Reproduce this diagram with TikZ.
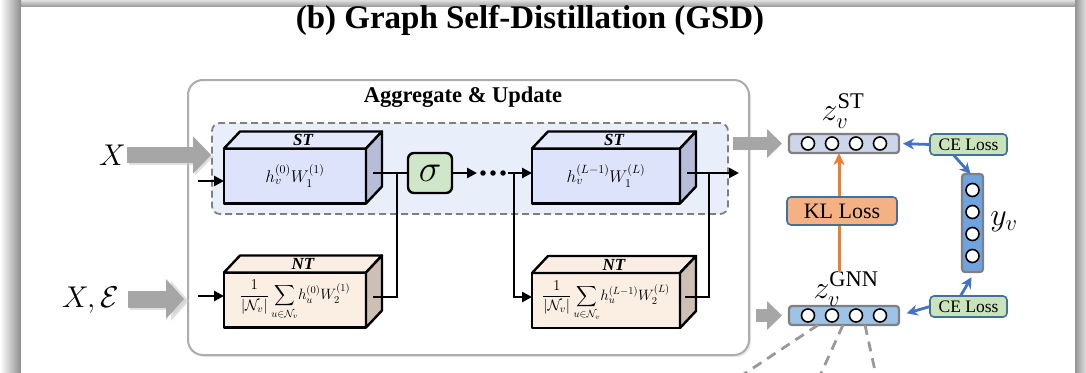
\RequirePackage{fix-cm}
\documentclass[tikz,border=0pt]{standalone}
\usepackage{amsmath}
\usepackage{fontspec}
\setmainfont{Liberation Serif}
\usetikzlibrary{arrows.meta,calc,shadows}

\definecolor{stfront}{HTML}{DDE3FA}
\definecolor{sttop}{HTML}{E4E8FB}
\definecolor{stside}{HTML}{B7BDD9}
\definecolor{ntfront}{HTML}{FBEEE3}
\definecolor{nttop}{HTML}{FAEEE4}
\definecolor{ntside}{HTML}{CDBFB4}
\definecolor{zonefill}{HTML}{E9EEFB}
\definecolor{sigfill}{HTML}{CFE6C9}
\definecolor{zstfill}{HTML}{CDD5EA}
\definecolor{zgnnfill}{HTML}{9DC3E6}
\definecolor{yfill}{HTML}{6FA3E0}
\definecolor{klfill}{HTML}{F4B183}
\definecolor{cefill}{HTML}{C9E3BC}
\definecolor{boxblue}{HTML}{41719C}
\definecolor{arrblue}{HTML}{4472C4}
\definecolor{arrorange}{HTML}{ED7D31}
\definecolor{blockgray}{HTML}{A6A6A6}

% 3-D block: name, centre, width, colour set (st/nt), top label, front content
\newcommand{\layerblock}[6]{%
  \node[frontface, fill=#4front, minimum width=#3, minimum height=55] (#1) at (#2) {#6};
  \draw[facepath, fill=#4top] (#1.north west) -- ++(16,-17)
       -- ($(#1.north east)+(16,-17)$) -- (#1.north east) -- cycle;
  \draw[facepath, fill=#4side] (#1.north east) -- ++(16,-17)
       -- ($(#1.south east)+(16,-17)$) -- (#1.south east) -- cycle;
  \node[toplabel] (#1-lab) at ($(#1.north)+(8,-8.5)$) {#5};
}

\begin{document}
\begin{tikzpicture}[x=1pt,y=-1pt,
  frontface/.style={draw, line width=2.4pt, outer sep=0pt, inner sep=2pt, line join=round},
  facepath/.style={draw, line width=2.4pt, line join=round},
  toplabel/.style={font=\bfseries\itshape\fontsize{17}{19}\selectfont, inner sep=0pt},
  wire/.style={draw, line width=2.8pt},
  arr/.style={wire, -{Triangle[length=10pt,width=10pt]}},
  blockarr/.style={draw=blockgray, line width=#1},
  ellipsisdot/.style={circle, fill=black, minimum size=5.5pt, inner sep=0pt},
  vecbox/.style={draw=black!50, line width=2.2pt, rounded corners=3pt, inner sep=0pt, outer sep=0pt},
  cell/.style={circle, draw, fill=white, line width=1.6pt, minimum size=13pt, inner sep=0pt},
  lossbox/.style={draw=boxblue, line width=1.6pt, rounded corners=4pt, inner sep=0pt, outer sep=0pt},
  bluearr/.style={draw=arrblue, line width=2.8pt, -{Stealth[length=11pt,width=11pt,inset=3.5pt]}},
  mathlab/.style={font=\fontsize{32}{34}\selectfont, inner sep=0pt},
]
\useasboundingbox (0,0) rectangle (1086,372);

% page and its shadow
\fill[white] (0,0) rectangle (1086,372);
\shade[top color=black!12, bottom color=black!42] (0,0) rectangle (1086,7);
\shade[left color=white, right color=black!45] (0,0) rectangle (21,372);
\shade[left color=black!42, right color=black!12] (1075,0) rectangle (1086,372);
\fill[white] (21,7) rectangle (1075,372);

% title
\node[font=\bfseries\fontsize{33}{36}\selectfont, inner sep=0pt] (title) at (530,20)
  {(b) Graph Self-Distillation (GSD)};

% aggregate & update frame
\node[draw=black!32, line width=2pt, rounded corners=15pt, fill=white,
      drop shadow={opacity=0.18, shadow xshift=2pt, shadow yshift=-2pt},
      minimum width=561, minimum height=275] (agg) at (468.5,217.5) {};
\node[font=\bfseries\fontsize{22.5}{25}\selectfont] (aggtitle) at (463,97) {Aggregate \& Update};

% structure-only zone
\node[draw=black!50, dashed, dash pattern=on 7pt off 4pt, line width=1.8pt, fill=zonefill,
      rounded corners=8pt, minimum width=516, minimum height=91] (stzone) at (470,168.5) {};

% layer blocks
\layerblock{st1}{295,176}{142}{st}{ST}{\fontsize{17}{19}\selectfont $h_v^{(0)}W_1^{(1)}$}
\layerblock{st2}{606,176}{148}{st}{ST}{\fontsize{17}{19}\selectfont $h_v^{(L-1)}W_1^{(L)}$}
\layerblock{nt1}{295,300}{142}{nt}{NT}{\fontsize{15}{17}\selectfont $\displaystyle\frac{1}{|\mathcal{N}_v|}\sum_{u\in\mathcal{N}_v}\! h_u^{(0)}W_2^{(1)}$}
\layerblock{nt2}{606,300.5}{148}{nt}{NT}{\fontsize{15}{17}\selectfont $\displaystyle\frac{1}{|\mathcal{N}_v|}\sum_{u\in\mathcal{N}_v}\! h_u^{(L-1)}W_2^{(L)}$}

% activation
\node[draw, line width=2.4pt, fill=sigfill, rounded corners=6pt, minimum width=44, minimum height=40,
      font=\fontsize{38}{40}\selectfont, inner sep=0pt] (sig) at (430,173) {$\sigma$};

% wiring inside the frame
\coordinate (inA) at (198,181);
\coordinate (inB) at (198,296);
\coordinate (st1o) at (373,173);
\coordinate (nt1o) at (373,297);
\coordinate (j1) at (397,173);
\coordinate (dotsL) at (477,173);
\coordinate (dotsR) at (508,173);
\coordinate (j2) at (514,173);
\coordinate (st2o) at (687,173);
\coordinate (nt2o) at (685,297);
\coordinate (j3) at (709,173);
\coordinate (outE) at (739,173);

\draw[arr] (inA) -- (inA -| st1.west);
\draw[arr] (inB) -- (inB -| nt1.west);
\draw[wire] (st1o) -- (sig.west);
\draw[wire] (nt1o) -| (j1);
\draw[arr] (sig.east) -- (dotsL);
\node[ellipsisdot] (e1) at (483,173) {};
\node[ellipsisdot] (e2) at (493,173) {};
\node[ellipsisdot] (e3) at (503,173) {};
\draw[arr] (dotsR) -- (st2.west |- dotsR);
\draw[arr] (j2) |- (st2.west |- nt2o);
\draw[arr] (st2o) -- (outE);
\draw[wire] (nt2o) -| (j3);

% inputs
\node[font=\fontsize{30}{32}\selectfont, inner sep=1pt, anchor=east] (xin) at (127,155) {$X$};
\node[font=\fontsize{30}{32}\selectfont, inner sep=1pt, anchor=east] (xein) at (120,300) {$X,\mathcal{E}$};
\coordinate (xeS) at (128,299);
\draw[blockarr=16pt, draw=black!20, opacity=0.6, -{Triangle[length=18pt,width=36pt]}]
  ([xshift=2pt,yshift=-2pt]xin.east) -- ([xshift=2pt,yshift=-2pt]xin.east -| stzone.west);
\draw[blockarr=16pt, -{Triangle[length=18pt,width=36pt]}] (xin.east) -- (xin.east -| stzone.west);
\draw[blockarr=17pt, draw=black!20, opacity=0.6, -{Triangle[length=18pt,width=39pt]}]
  ([xshift=2pt,yshift=-2pt]xeS) -- ([xshift=2pt,yshift=-2pt]xeS -| agg.west);
\draw[blockarr=17pt, -{Triangle[length=18pt,width=39pt]}] (xeS) -- ([xshift=-3pt]xeS -| agg.west);

% output vectors
\node[vecbox, fill=zstfill, minimum width=110, minimum height=19] (zst) at (844,143.5) {};
\node[vecbox, fill=zgnnfill, minimum width=110, minimum height=19] (zgnn) at (844,315.5) {};
\foreach \i/\d in {1/-36,2/-12,3/12,4/36} {
  \node[cell] (zst-\i) at ($(zst.center)+(\d,0)$) {};
  \node[cell] (zgnn-\i) at ($(zgnn.center)+(\d,0)$) {};
}
\node[mathlab] (zstlab) at (843,111) {$z_v^{\mathrm{ST}}$};
\node[mathlab] (zgnnlab) at (846,289) {$z_v^{\mathrm{GNN}}$};

% label vector
\node[vecbox, fill=yfill, minimum width=21, minimum height=98] (yv) at (972.5,223) {};
\foreach \i/\d in {1/-33,2/-11,3/11,4/33}
  \node[cell] (yv-\i) at ($(yv.center)+(0,\d)$) {};
\node[mathlab] (yvlab) at (1004,222) {$y_v$};

% gray arrows into the vectors
\coordinate (gA) at (733,143.5);
\coordinate (gB) at (756,315.5);
\draw[blockarr=13pt, -{Triangle[length=15pt,width=28pt]}, shorten >=7pt] (gA) -- (zst.west);
\draw[blockarr=13pt, -{Triangle[length=15pt,width=28pt]}, shorten >=7pt] (gB) -- (zgnn.west);

% distillation loss
\coordinate (klfoot) at (839,272);
\draw[draw=arrorange, line width=3pt, -{Stealth[length=12pt,width=11pt,inset=3.5pt]}]
  (klfoot) -- (klfoot |- zst.south);
\node[lossbox, fill=klfill, minimum width=110, minimum height=28,
      font=\fontsize{22}{24}\selectfont] (kl) at (842,211) {KL Loss};

% supervised losses
\node[lossbox, fill=cefill, minimum width=77, minimum height=21,
      font=\fontsize{17.5}{19}\selectfont] (ceA) at (968.5,144.5) {CE Loss};
\node[lossbox, fill=cefill, minimum width=77, minimum height=21,
      font=\fontsize{17.5}{19}\selectfont] (ceB) at (968.5,306.5) {CE Loss};
\draw[bluearr, shorten >=4pt] (ceA.west) -- (zst.east);
\draw[bluearr] ([xshift=-15pt]ceA.south) -- ([xshift=-2pt]yv.north);
\draw[bluearr, shorten >=8pt] (ceB.west) -- (zgnn.east);
\draw[bluearr, shorten >=6pt] ([xshift=-8pt]ceB.north) -- ([xshift=2pt]yv.south);

% links leaving the GNN output
\coordinate (dA) at (735,380);
\coordinate (dB) at (818,380);
\coordinate (dC) at (877,380);
\begin{scope}
  \clip (0,0) rectangle (1086,372);
  \draw[black!40, line width=2.8pt, dash pattern=on 10pt off 7pt] ([xshift=-26pt]zgnn.south) -- (dA);
  \draw[black!40, line width=2.8pt, dash pattern=on 10pt off 7pt] ([xshift=-1pt]zgnn.south) -- (dB);
  \draw[black!40, line width=2.8pt, dash pattern=on 10pt off 7pt] ([xshift=21pt]zgnn.south) -- (dC);
\end{scope}
\end{tikzpicture}
\end{document}
